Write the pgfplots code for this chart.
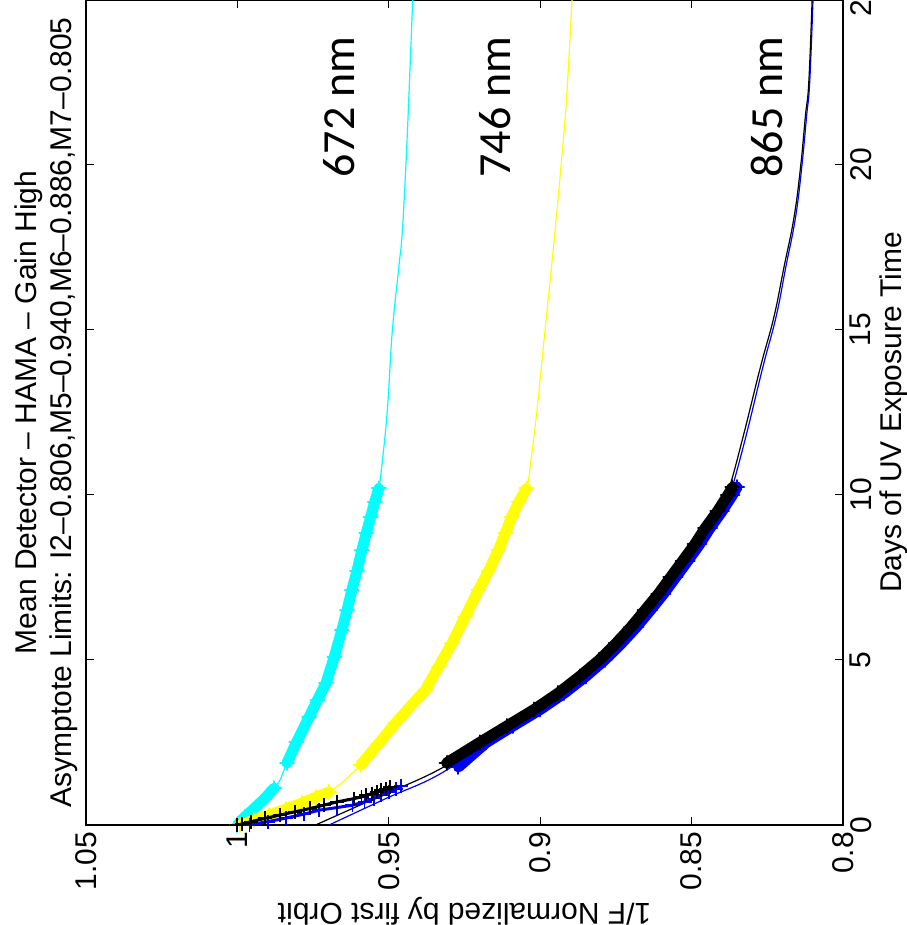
\documentclass[border=0pt]{standalone}
\usepackage{pgfplots}
\pgfplotsset{compat=1.18}
\usepackage{fontspec}
\setmainfont{Liberation Sans}
\newfontfamily\calibri{Carlito}
\definecolor{mcyan}{rgb}{0,1,1}
\definecolor{myellow}{rgb}{1,1,0}
\definecolor{mblue}{rgb}{0,0,1}

\begin{document}
\begin{tikzpicture}[font=\fontsize{15}{17.5}\selectfont]
\begin{axis}[
  scale only axis,
  width=378.5pt, height=412.5pt,
  x dir=reverse,
  xmin=0.8, xmax=1.05, ymin=0, ymax=25,
  xtick={0.8,0.85,0.9,0.95,1,1.05},
  xticklabels={0.8,0.85,0.9,0.95,1,1.05},
  ytick={0,5,10,15,20,25},
  yticklabels={0,5,10,15,20,25},
  yticklabel pos=right,
  xticklabel style={rotate=90, anchor=east},
  yticklabel style={rotate=90, anchor=north},
  xlabel={1/F Normalized by first Orbit},
  ylabel={Days of UV Exposure Time},
  xlabel style={rotate=180, inner sep=0pt},
  ylabel style={inner sep=0.5pt},
  axis line style={line width=0.6pt},
  tick style={line width=0.5pt, black},
  major tick length=4pt,
  clip mode=individual,
  band/.style={line width=5.5pt, line join=round, line cap=round, mark=+, mark size=3.5pt, mark options={line width=1pt}},
  early/.style={line width=1.5pt, mark=+, mark size=3.5pt, mark options={line width=0.9pt}},
  fit/.style={line width=0.6pt, smooth, tension=0.7},
]
% ---------- fit lines ----------
\addplot[mcyan, fit] coordinates {(1.0,0) (0.9878,1.12) (0.9836,1.88) (0.9763,3.27) (0.9707,4.3) (0.9655,5.91) (0.9622,7.12) (0.9589,8.33) (0.956,9.33) (0.9535,10.1) (0.9518,11.3) (0.9503,12.8) (0.9489,14.9) (0.9467,16.9) (0.9456,17.9) (0.9444,19.9) (0.9434,22) (0.9421,25)};
\addplot[myellow, fit] coordinates {(0.999,0) (0.9895,0.3) (0.9786,0.67) (0.9697,1.0) (0.9593,1.82) (0.9478,3.08) (0.9379,4.09) (0.9292,5.5) (0.9204,7.12) (0.9138,8.33) (0.9094,9.34) (0.9048,10.1) (0.9027,11.3) (0.9008,12.8) (0.8985,14.9) (0.8952,17.9) (0.8932,19.9) (0.8913,22) (0.8895,25)};
\addplot[mblue, fit] coordinates {(0.9697,0) (0.951,0.8) (0.9336,1.52) (0.9178,2.5) (0.909,3.0) (0.900,3.5) (0.892,4.0) (0.885,4.5) (0.8787,5.0) (0.8682,6.0) (0.8593,7.0) (0.8513,8.0) (0.8441,9.0) (0.8375,10.0) (0.8362,10.35) (0.8318,11.87) (0.8264,13.9) (0.8221,15.4) (0.8189,16.9) (0.8157,18.4) (0.8136,19.95) (0.8120,21.5) (0.8110,22.5) (0.8099,25)};
\addplot[black, fit] coordinates {(0.9742,0) (0.9547,0.8) (0.9336,1.67) (0.920,2.5) (0.911,3.0) (0.902,3.5) (0.894,4.0) (0.887,4.5) (0.8805,5.0) (0.870,6.0) (0.861,7.0) (0.853,8.0) (0.8458,9.0) (0.8388,10.0) (0.8371,10.35) (0.8327,11.87) (0.8272,13.9) (0.8228,15.4) (0.8195,16.9) (0.8162,18.4) (0.8140,19.95) (0.8124,21.5) (0.8113,22.5) (0.8102,25)};
% ---------- data: cyan ----------
\addplot[mcyan, band] coordinates {(1.0,0) (0.9975,0.25) (0.995,0.45) (0.991,0.8) (0.9878,1.12)};
\addplot[mcyan, band] coordinates {(0.9836,1.88) (0.9805,2.5) (0.9763,3.27) (0.9735,3.8) (0.9707,4.3) (0.968,5.1) (0.9655,5.91) (0.9638,6.5) (0.9622,7.12) (0.9605,7.7) (0.9589,8.33) (0.9574,8.85) (0.956,9.33) (0.9546,9.8) (0.9533,10.2)};
% ---------- data: yellow ----------
\addplot[myellow, band] coordinates {(0.999,0) (0.9945,0.15) (0.9895,0.3) (0.984,0.48) (0.9786,0.67) (0.974,0.84) (0.9697,1.0)};
\addplot[myellow, band] coordinates {(0.9593,1.82) (0.9535,2.45) (0.9478,3.08) (0.9428,3.6) (0.9379,4.09) (0.9335,4.8) (0.9292,5.5) (0.9248,6.3) (0.9204,7.12) (0.917,7.7) (0.9138,8.33) (0.9115,8.85) (0.9094,9.34) (0.907,9.8) (0.9045,10.2)};
% ---------- data: blue ----------
\addplot[mblue, early] coordinates {(0.996,0) (0.990,0.1) (0.984,0.21) (0.978,0.33) (0.973,0.45) (0.967,0.53) (0.962,0.6) (0.958,0.7) (0.955,0.8) (0.9525,0.9) (0.950,1.0) (0.9475,1.1) (0.946,1.18)};
\addplot[mblue, band] coordinates {(0.927,1.76) (0.9178,2.5) (0.909,3.0) (0.900,3.5) (0.892,4.0) (0.885,4.5) (0.8787,5.0) (0.8732,5.5) (0.8682,6.0) (0.8637,6.5) (0.8593,7.0) (0.8553,7.5) (0.8513,8.0) (0.8474,8.5) (0.8439,9.0) (0.840,9.5) (0.8365,10.0) (0.835,10.24)};
% ---------- data: black ----------
\addplot[black, early] coordinates {(1.0,0) (0.9985,0.03) (0.9955,0.1) (0.991,0.2) (0.986,0.3) (0.981,0.4) (0.976,0.5) (0.9715,0.6) (0.967,0.7) (0.9615,0.8) (0.959,0.85) (0.9575,0.9) (0.9555,0.95) (0.954,1.0) (0.9525,1.05) (0.951,1.1) (0.9495,1.15)};
\addplot[black, band] coordinates {(0.9309,1.88) (0.920,2.5) (0.911,3.0) (0.902,3.5) (0.894,4.0) (0.887,4.5) (0.8805,5.0) (0.875,5.5) (0.870,6.0) (0.8655,6.5) (0.861,7.0) (0.857,7.5) (0.853,8.0) (0.849,8.5) (0.8455,9.0) (0.8415,9.5) (0.838,10.0) (0.8365,10.24)};
% ---------- annotations ----------
\node[rotate=90, font=\calibri\fontsize{23}{27}\selectfont] at (axis cs:0.9664,21.76) {672 nm};
\node[rotate=90, font=\calibri\fontsize{23}{27}\selectfont] at (axis cs:0.9148,21.76) {746 nm};
\node[rotate=90, font=\calibri\fontsize{23}{27}\selectfont] at (axis cs:0.825,21.76) {865 nm};
\coordinate (LL) at (axis description cs:0,0);
\coordinate (UR) at (axis description cs:1,1);
\coordinate (ML) at (axis description cs:0,0.5);
\end{axis}
\node[rotate=90, anchor=south, align=center, inner sep=0pt] at ([xshift=-4pt]ML) {Mean Detector -- HAMA -- Gain High\\Asymptote Limits: I2--0.806,M5--0.940,M6--0.886,M7--0.805};
\pgfresetboundingbox
\path[use as bounding box] ([xshift=-43pt,yshift=-50pt]LL) rectangle ([xshift=31.5pt]UR);
\end{tikzpicture}
\end{document}
